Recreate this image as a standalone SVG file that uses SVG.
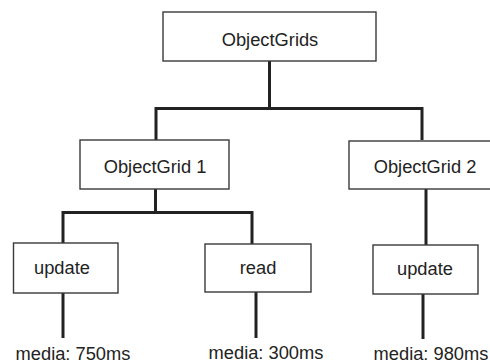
<svg xmlns="http://www.w3.org/2000/svg" width="490" height="363" viewBox="0 0 490 363">
<style>
.box{fill:#fff;stroke:#3a3a3a;stroke-width:1.4}
.t{font-family:"Liberation Sans",Arial,sans-serif;font-size:18.3px;fill:#222;text-anchor:middle}
.c{fill:none;stroke:#222;stroke-width:3;stroke-linejoin:miter;stroke-linecap:butt}
</style>
<rect width="490" height="363" fill="#fff"/>
<g id="connectors">
<path class="c" d="M269.5 61 V108.5 M156 140 V108.5 H422 V140"/>
<path class="c" d="M155.5 189 V212.5 M63 243 V212.5 H252 V244"/>
<path class="c" d="M426 189 V245"/>
<path class="c" d="M63 293 V338 M256 292 V338 M423 294 V339"/>
</g>
<g id="n-objectgrids">
<rect class="box" x="163" y="12" width="213" height="49"/>
<text class="t" x="270" y="46">ObjectGrids</text>
</g>
<g id="n-objectgrid1">
<rect class="box" x="80" y="140" width="149" height="49"/>
<text class="t" x="155" y="173">ObjectGrid 1</text>
</g>
<g id="n-objectgrid2">
<rect class="box" x="349" y="141" width="150" height="48"/>
<text class="t" x="425" y="173">ObjectGrid 2</text>
</g>
<g id="n-update1">
<rect class="box" x="13.5" y="243" width="104.5" height="50"/>
<text class="t" x="62" y="274">update</text>
</g>
<g id="n-read">
<rect class="box" x="205" y="244" width="106" height="48"/>
<text class="t" x="258" y="274">read</text>
</g>
<g id="n-update2">
<rect class="box" x="373" y="245" width="105" height="49"/>
<text class="t" x="425" y="275">update</text>
</g>
<g id="labels">
<text class="t" x="73" y="360">media: 750ms</text>
<text class="t" x="266" y="359">media: 300ms</text>
<text class="t" x="431" y="360">media: 980ms</text>
</g>
</svg>
